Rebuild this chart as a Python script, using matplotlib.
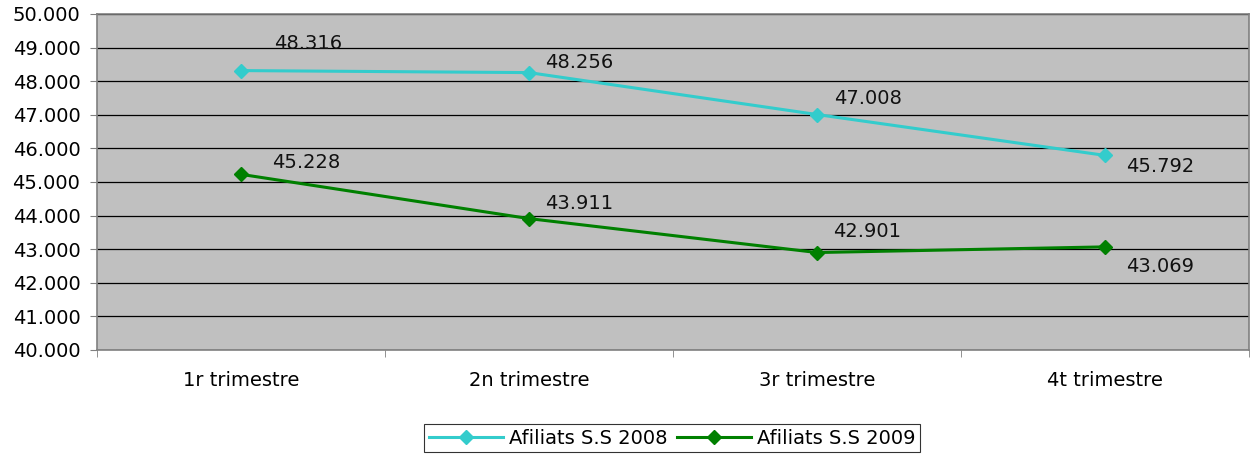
import matplotlib
matplotlib.use("Agg")
from matplotlib import pyplot as plt
from matplotlib.ticker import FuncFormatter, FixedLocator

categories = ["1r trimestre", "2n trimestre", "3r trimestre", "4t trimestre"]
afiliats_2008 = [48316, 48256, 47008, 45792]
afiliats_2009 = [45228, 43911, 42901, 43069]

# label offsets (pixels) relative to each point, as in the original layout
offs_2008 = [(67, 27), (50, 10), (51, 16), (55, -11)]
offs_2009 = [(65, 12), (50, 15), (50, 21), (55, -20)]

def dots(v):
    return f"{v:,.0f}".replace(",", ".")

plt.rcParams['font.family'] = ['DejaVu Sans']
fs = 14
fig = plt.figure(figsize=(12.55, 4.57), dpi=100)
ax = fig.add_axes([97/1255, 1-350/457, 1152/1255, 336/457])
ax.set_facecolor("#C0C0C0")

x = list(range(len(categories)))
ax.plot(x, afiliats_2008, color="#33CCCC", lw=2.2, marker="D", ms=7, label="Afiliats S.S 2008", zorder=3)
ax.plot(x, afiliats_2009, color="#008000", lw=2.2, marker="D", ms=7, label="Afiliats S.S 2009", zorder=3)

for series, offs in ((afiliats_2008, offs_2008), (afiliats_2009, offs_2009)):
    for i, v in enumerate(series):
        ax.annotate(dots(v), (i, v), textcoords="offset pixels", xytext=offs[i],
                    ha="center", va="center", fontsize=fs, color="#111111")

ax.set_xlim(-0.5, 3.5)
ax.set_ylim(40000, 50000)
ax.set_yticks(range(40000, 50001, 1000))
ax.yaxis.set_major_formatter(FuncFormatter(lambda v, p: dots(v)))
ax.grid(axis="y", color="black", lw=0.9)
ax.set_axisbelow(True)

ax.set_xticks(x)
ax.set_xticklabels(categories)
ax.xaxis.set_minor_locator(FixedLocator([-0.5, 0.5, 1.5, 2.5, 3.5]))
ax.tick_params(axis="x", which="major", length=0, pad=15, labelsize=fs)
ax.tick_params(axis="x", which="minor", length=5, color="#808080")
ax.tick_params(axis="y", length=5, color="#808080", labelsize=fs, pad=7)

for s in ax.spines.values():
    s.set_color("#808080")
    s.set_linewidth(1.2)

leg = fig.legend(loc="center", bbox_to_anchor=(672/1255, 1-438/457), ncol=2,
                 frameon=True, fancybox=False, fontsize=fs, handlelength=3.8,
                 columnspacing=0.5, handletextpad=0.3, borderpad=0.25)
leg.get_frame().set_edgecolor("black")
leg.get_frame().set_linewidth(0.8)

fig.savefig("out.png", dpi=100)
